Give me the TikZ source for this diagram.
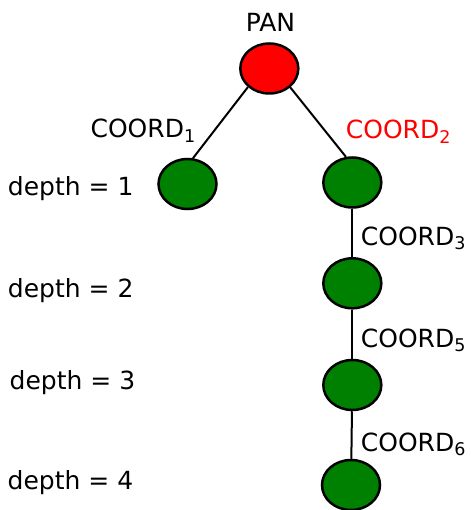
\documentclass[tikz,border=0pt]{standalone}
\usepackage{fontspec}
\setmainfont{DejaVu Sans}
\usetikzlibrary{shapes.geometric}
% coordinate label with a lowered index
\newcommand\crdlbl[1]{COORD\raisebox{-4.7pt}{\fontsize{17.5}{18}\selectfont #1}}
\tikzset{
  treenode/.style={ellipse, draw=black, line width=2.5pt, minimum width=58pt,
    minimum height=50pt, inner sep=0pt},
  rootnode/.style={treenode, fill=red},
  leafnode/.style={treenode, fill=green!50!black},
  edge/.style={draw=black, line width=2pt},
  lbl/.style={inner sep=0pt, font=\fontsize{25}{29}\selectfont, anchor=base west},
}
\begin{document}
\begin{tikzpicture}[x=1pt, y=-1pt]
  \useasboundingbox (0,0) rectangle (470,510);
  % nodes of the tree
  \node[rootnode] (pan) at (269.3,68.5) {};
  \node[leafnode] (c1) at (187.5,184) {};
  \node[leafnode] (c2) at (352.3,182.5) {};
  \node[leafnode] (c3) at (352.3,283.3) {};
  \node[leafnode] (c5) at (352.3,385) {};
  \node[leafnode] (c6) at (351,485) {};
  % connectors
  \draw[edge] (pan.221) -- (c1.78);
  \draw[edge] (pan.318.5) -- (c2.104);
  \draw[edge] (c2) -- (c3);
  \draw[edge] (c3) -- (c5);
  \draw[edge] (c5) -- (c6);
  % labels
  \node[lbl, anchor=base] (lpan) at (270.5,32) {PAN};
  \node[lbl] (l1) at (90.4,138) {\crdlbl{1}};
  \node[lbl, text=red] (l2) at (345.7,139) {\crdlbl{2}};
  \node[lbl] (l3) at (360.7,245) {\crdlbl{3}};
  \node[lbl] (l5) at (360.7,347) {\crdlbl{5}};
  \node[lbl] (l6) at (360.7,451) {\crdlbl{6}};
  % depth markers
  \node[lbl] (d1) at (7.7,196) {depth = 1};
  \node[lbl] (d2) at (7.7,297) {depth = 2};
  \node[lbl] (d3) at (9.5,389.5) {depth = 3};
  \node[lbl] (d4) at (7.5,489.5) {depth = 4};
\end{tikzpicture}
\end{document}
